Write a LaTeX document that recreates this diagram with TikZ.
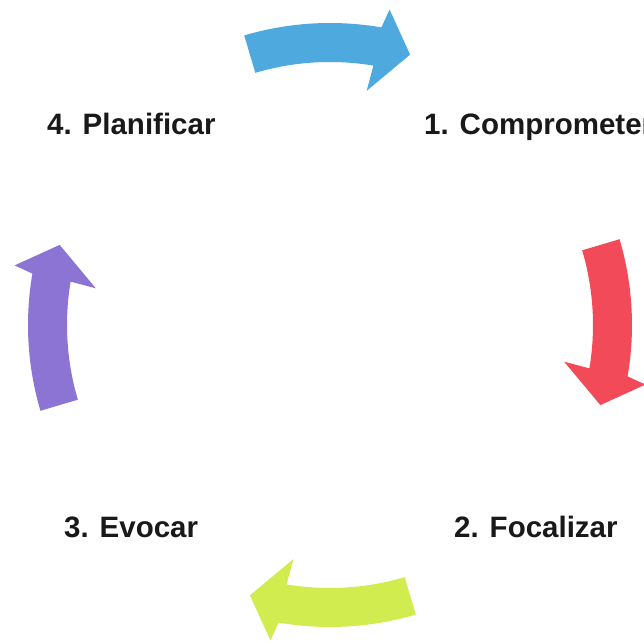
\documentclass[tikz,border=0pt]{standalone}
\usepackage{fontspec}
\setmainfont{Liberation Sans}
\definecolor{arrBlue}{RGB}{78,170,222}
\definecolor{arrRed}{RGB}{242,74,88}
\definecolor{arrGreen}{RGB}{208,236,78}
\definecolor{arrPurple}{RGB}{140,116,212}
\tikzset{
  steplabel/.style={anchor=base west, inner sep=0pt, font=\bfseries\fontsize{29.5}{32}\selectfont, text=black!90}
}
\begin{document}
\begin{tikzpicture}[x=1pt,y=1pt]
\useasboundingbox (0,0) rectangle (644,644);
\clip (0,0) rectangle (644,644);
\fill[white] (0,0) rectangle (644,644);
\begin{scope}[shift={(330,319)}]
\foreach \m/\c in {90/arrBlue, 0/arrRed, -90/arrGreen, 180/arrPurple} {
  \fill[\c] (\m+16.5:302) arc[start angle=\m+16.5, end angle=\m-9.8, radius=302]
    -- (\m-10.7:321) -- (\m-16.5:282) -- (\m-8.9:237) -- (\m-9.5:263)
    arc[start angle=\m-9.5, end angle=\m+16.5, radius=263] -- cycle;
}
\end{scope}
\node[steplabel] (plan) at (47,509) {4. Planificar};
\node[steplabel] (comp) at (424,509) {1. Comprometer};
\node[steplabel] (evoc) at (64,106) {3. Evocar};
\node[steplabel] (foca) at (454,106) {2. Focalizar};
\end{tikzpicture}
\end{document}
